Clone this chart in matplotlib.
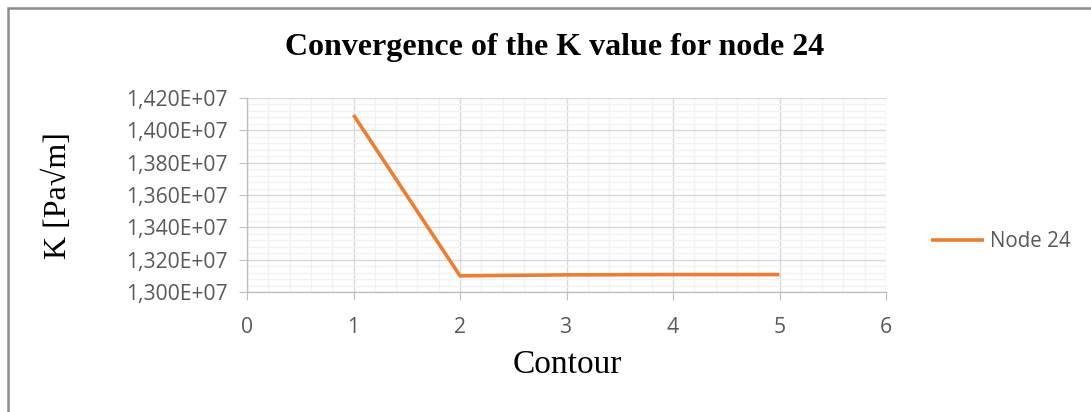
import matplotlib
matplotlib.use("Agg")
import matplotlib.pyplot as plt
from matplotlib.ticker import MultipleLocator, FuncFormatter
from matplotlib.patches import Rectangle

# Stress intensity factor per integration contour
contours = [1, 2, 3, 4, 5]
k_values = [1.4095e7, 1.3100e7, 1.3106e7, 1.3108e7, 1.3108e7]
series_name = "Node 24"

W, H = 1091, 412
fig = plt.figure(figsize=(W / 100, H / 100), dpi=100)
ax = fig.add_axes([247 / W, 1 - 292 / H, (886 - 247) / W, (292 - 98) / H])

line_color = "#ED7D31"
tick_color = "#595959"
ax.plot(contours, k_values, color=line_color, linewidth=2.6, label=series_name,
        solid_capstyle="butt")

ax.set_xlim(0, 6)
ax.set_ylim(1.30e7, 1.42e7)
ax.xaxis.set_major_locator(MultipleLocator(1))
ax.xaxis.set_minor_locator(MultipleLocator(0.2))
ax.yaxis.set_major_locator(MultipleLocator(0.02e7))
ax.yaxis.set_minor_locator(MultipleLocator(0.004e7))
ax.yaxis.set_major_formatter(
    FuncFormatter(lambda v, _: f"{v / 1e7:.3f}".replace(".", ",") + "E+07"))

ax.grid(which="major", color="#d9d9d9", linewidth=1.0)
ax.grid(which="minor", color="#f2f2f2", linewidth=1.0)
ax.set_axisbelow(True)

for side in ("top", "right"):
    ax.spines[side].set_visible(False)
for side in ("left", "bottom"):
    ax.spines[side].set_color("#bfbfbf")
    ax.spines[side].set_linewidth(1.0)

ax.tick_params(which="major", direction="out", length=6, color="#bfbfbf",
               labelcolor=tick_color)
ax.tick_params(axis="y", pad=8)
ax.tick_params(axis="x", pad=12)
ax.tick_params(which="minor", length=0)
for lbl in ax.get_xticklabels() + ax.get_yticklabels():
    lbl.set_fontfamily("Open Sans")
    lbl.set_fontsize(15.2)

serif = "Liberation Serif"
fig.text(555 / W, 1 - 47 / H, "Convergence of the K value for node 24",
         ha="center", va="center", fontfamily=serif, fontweight="bold",
         fontsize=23)
fig.text(567 / W, 1 - 365 / H, "Contour", ha="center", va="center",
         fontfamily=serif, fontsize=24)
fig.text(58 / W, 1 - 196 / H, "K [Pa\u221am]", ha="center", va="center",
         rotation=90, fontfamily=serif, fontsize=23)

leg = fig.legend(loc="center left", bbox_to_anchor=(912 / W, 1 - 242 / H),
                 frameon=False, handlelength=2.6, handletextpad=0.3,
                 prop={"family": "Open Sans", "size": 14.8})
for t in leg.get_texts():
    t.set_color(tick_color)

# Chart frame, open on the right and bottom edges
fig.patches.append(Rectangle((8 / W, -0.1), 1.2, 1 - 8 / H + 0.1,
                             transform=fig.transFigure, fill=False,
                             edgecolor="#8c8c8c", linewidth=1.8))

fig.savefig("out.png", dpi=100)
